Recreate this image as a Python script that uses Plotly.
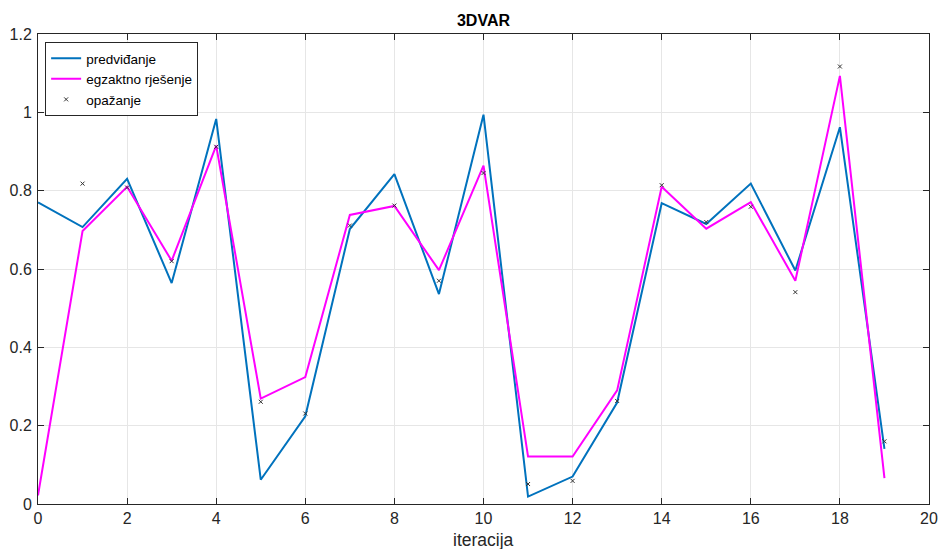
import plotly.graph_objects as go

iters = list(range(20))
predvidjanje = [0.770, 0.707, 0.830, 0.564, 0.983, 0.062, 0.224, 0.702, 0.842, 0.536,
                0.994, 0.019, 0.070, 0.259, 0.768, 0.715, 0.818, 0.596, 0.962, 0.141]
egzaktno = [0.022, 0.697, 0.810, 0.621, 0.915, 0.269, 0.324, 0.738, 0.761, 0.597,
            0.864, 0.121, 0.121, 0.290, 0.810, 0.703, 0.771, 0.570, 1.093, 0.066]
obs_iters = list(range(1, 20))
opazanje = [0.818, 0.808, 0.620, 0.912, 0.261, 0.231, 0.711, 0.762, 0.570,
            0.845, 0.051, 0.059, 0.263, 0.814, 0.720, 0.759, 0.541, 1.117, 0.160]

x_ticks = list(range(0, 21, 2))
y_ticks = [0, 0.2, 0.4, 0.6, 0.8, 1.0, 1.2]
y_ticktext = ["0", "0.2", "0.4", "0.6", "0.8", "1", "1.2"]

font = "Liberation Sans, Arial, sans-serif"
fig = go.Figure()
fig.add_trace(go.Scatter(x=iters, y=predvidjanje, mode="lines", name="predviđanje",
                         line=dict(color="#0072BD", width=2)))
fig.add_trace(go.Scatter(x=iters, y=egzaktno, mode="lines", name="egzaktno rješenje",
                         line=dict(color="#FF00FF", width=2)))
fig.add_trace(go.Scatter(x=obs_iters, y=opazanje, mode="markers", name="opažanje",
                         marker=dict(symbol="x-thin", size=4, color="#000000",
                                     line=dict(color="#333333", width=1))))

axis_common = dict(showline=True, linecolor="#262626", linewidth=1, mirror="ticks",
                   ticks="inside", ticklen=6, tickcolor="#262626", automargin=False,
                   showgrid=True, gridcolor="#E6E6E6", gridwidth=1, zeroline=False,
                   tickfont=dict(family=font, size=16, color="#262626"))

fig.update_layout(
    width=941, height=549,
    margin=dict(l=38, r=12, t=34, b=45),
    paper_bgcolor="white", plot_bgcolor="white",
    title=dict(text="<b>3DVAR</b>", x=0.5, xref="paper", xanchor="center",
               y=1 - 20 / 549, yref="container", yanchor="middle",
               font=dict(family=font, size=16, color="#000000")),
    xaxis=dict(range=[0, 20], tickvals=x_ticks, **axis_common),
    yaxis=dict(range=[0, 1.2], tickvals=y_ticks, ticktext=y_ticktext, ticklabelstandoff=2,
               **axis_common),
    legend=dict(x=0.008, y=0.983, xanchor="left", yanchor="top",
                bgcolor="white", bordercolor="#262626", borderwidth=1,
                font=dict(family=font, size=13.5, color="#000000"),
                tracegroupgap=0, itemwidth=30),
    showlegend=True,
    annotations=[dict(text="iteracija", xref="paper", yref="paper", x=0.5, y=-36 / 470,
                      xanchor="center", yanchor="middle", showarrow=False,
                      font=dict(family=font, size=17.5, color="#262626"))],
)

fig.write_html("out.html", config={"displayModeBar": False},
               post_script="document.body.style.margin='0';")
